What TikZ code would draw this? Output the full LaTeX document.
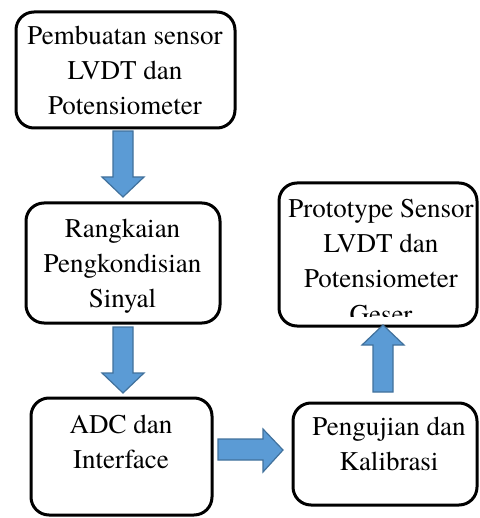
\documentclass[tikz,border=0pt]{standalone}
\usepackage{fontspec}
\newfontfamily\tnrfont{texgyretermes-regular.otf}
\definecolor{arrfill}{HTML}{5B9BD5}
\definecolor{arrline}{HTML}{41719C}
\tikzset{
  boxstyle/.style={draw=black, line width=3pt, rounded corners=18pt},
  txt/.style={anchor=base, inner sep=0pt, font=\tnrfont\fontsize{27}{35}\selectfont},
  blockarrow/.style={fill=arrfill, draw=arrline, line width=1.2pt, line join=miter}
}
\newcommand{\lines}[1]{\begin{tabular}[t]{@{}c@{}}#1\end{tabular}}
\begin{document}
\begin{tikzpicture}[x=1pt,y=-1pt]
\useasboundingbox (0,0) rectangle (479,518);
% boxes
\draw[boxstyle] (16,12) rectangle (235,128);
\draw[boxstyle] (26,203) rectangle (220,323);
\draw[boxstyle] (31,398) rectangle (212,515);
\draw[boxstyle] (293,403) rectangle (477,505);
\draw[boxstyle] (279,183) rectangle (477,326);
% texts
\node[txt] (t1) at (125,45) {\lines{Pembuatan sensor\\LVDT dan\\Potensiometer}};
\node[txt] (t2) at (122.5,237) {\lines{Rangkaian\\Pengkondisian\\Sinyal}};
\node[txt] (t3) at (121,433) {\lines{ADC dan\\Interface}};
\node[txt] (t4) at (389,435) {\lines{Pengujian dan\\Kalibrasi}};
\begin{scope}
\clip (279,183) rectangle (477,316);
\node[txt] (t5) at (381,218) {\lines{Prototype Sensor\\LVDT dan\\Potensiometer\\Geser}};
\end{scope}
% block arrows
\draw[blockarrow] (113,131) -- (133,131) -- (133,177) -- (144,177) -- (123,197) -- (102,177) -- (113,177) -- cycle;
\draw[blockarrow] (113,327) -- (133,327) -- (133,373) -- (144,373) -- (123,393) -- (102,373) -- (113,373) -- cycle;
\draw[blockarrow] (218,439) -- (263,439) -- (263,429) -- (283,450) -- (263,472) -- (263,460) -- (218,460) -- cycle;
\draw[blockarrow] (373,392) -- (373,345) -- (362,345) -- (383,325) -- (404,345) -- (393,345) -- (393,392) -- cycle;
\end{tikzpicture}
\end{document}
